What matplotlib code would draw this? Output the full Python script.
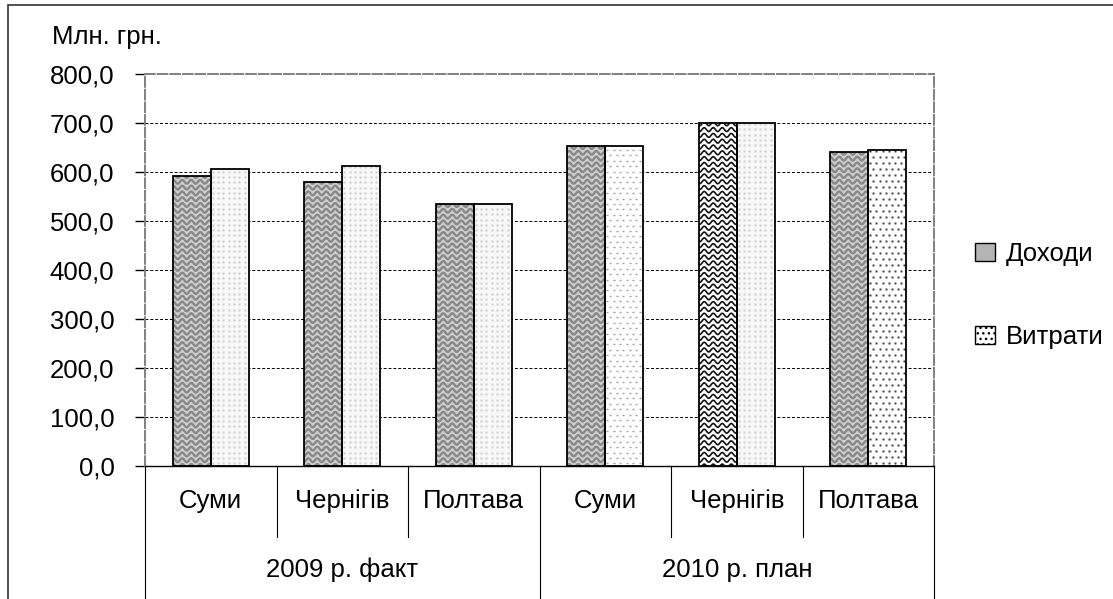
import numpy as np
import matplotlib
matplotlib.use('Agg')
import matplotlib.pyplot as plt
from matplotlib.lines import Line2D
from matplotlib.patches import Patch, Rectangle
from matplotlib.transforms import IdentityTransform, blended_transform_factory

plt.rcParams['font.family'] = ['Liberation Sans Narrow', 'Liberation Sans', 'DejaVu Sans']
FS = 18.5

# data
groups = ['2009 р. факт', '2010 р. план']
cities = ['Суми', 'Чернігів', 'Полтава', 'Суми', 'Чернігів', 'Полтава']
income = [592, 580, 535, 653, 699, 640]
expense = [607, 613, 535, 653, 699, 645]
y_ticks = [0, 100, 200, 300, 400, 500, 600, 700, 800]
y_labels = ['0,0', '100,0', '200,0', '300,0', '400,0', '500,0', '600,0', '700,0', '800,0']

W, H = 1113, 599
fig = plt.figure(figsize=(W / 100, H / 100), dpi=100)
ax = fig.add_axes([145 / W, 1 - 466 / H, (934 - 145) / W, (466 - 74) / H])

# outer frame of the chart
fig.patches.append(Rectangle((8 / W, -0.1), 1.2, 1 - 5 / H + 0.1, transform=fig.transFigure,
                             fill=False, edgecolor='#333333', lw=1.2))

x = np.arange(len(cities))
bw = 0.289

ax.set_xlim(-0.5, len(cities) - 0.5)
ax.set_ylim(0, 800)

inc_bars = ax.bar(x - bw / 2, income, bw, color='#d0d0d0', lw=0, zorder=2)
exp_bars = ax.bar(x + bw / 2, expense, bw, color='#f8f8f8', lw=0, zorder=2)


def wave_fill(bar, color, lw, period=9.0, amp=1.9, gap=5.8):
    bb = bar.get_window_extent()
    xs = np.arange(bb.x0 - period, bb.x1 + period, 0.5)
    for y0 in np.arange(bb.y0, bb.y1 + gap, gap):
        ln = Line2D(xs, y0 + amp * np.sin(2 * np.pi * xs / period), transform=IdentityTransform(),
                    color=color, lw=lw, zorder=2.5)
        ax.add_artist(ln)
        ln.set_clip_path(bar)


def dot_fill(bar, color, ms, dx, dy, stagger, marker='s'):
    bb = bar.get_window_extent()
    px, py = [], []
    for i, yy in enumerate(np.arange(bb.y0 + dy / 2, bb.y1, dy)):
        xs = np.arange(bb.x0 + 2 + (i % 2) * stagger, bb.x1, dx)
        px.extend(xs)
        py.extend([yy] * len(xs))
    ln = Line2D(px, py, transform=IdentityTransform(), ls='none', marker=marker,
                ms=ms, mfc=color, mec=color if marker == '_' else 'none', zorder=2.5)
    ax.add_artist(ln)
    ln.set_clip_path(bar)


for i, b in enumerate(inc_bars):
    if i == 4:
        b.set_facecolor('white')
        wave_fill(b, '#111111', 1.2)
    else:
        wave_fill(b, '#888888', 1.7)

for i, b in enumerate(exp_bars):
    if i == 3:
        b.set_facecolor('white')
        dot_fill(b, '#a0a0a0', 1.8, 6.5, 5.4, 3.2, marker='_')
    elif i == 5:
        b.set_facecolor('white')
        dot_fill(b, '#3a3a3a', 1.4, 6.2, 6.0, 3.1)
    else:
        dot_fill(b, '#cdcdcd', 2.0, 5.3, 5.3, 0)

# outlines
ax.bar(x - bw / 2, income, bw, fill=False, edgecolor='black', lw=1.3, zorder=3)
ax.bar(x + bw / 2, expense, bw, fill=False, edgecolor='black', lw=1.3, zorder=3)

# grid and frame
ax.set_yticks(y_ticks)
ax.set_yticklabels(y_labels, fontsize=FS)
for t in y_ticks[1:-1]:
    ax.axhline(t, color='black', lw=0.7, ls=(0, (3, 2)), zorder=1)
for s in ['left', 'top', 'right']:
    ax.spines[s].set_color('#808080')
    ax.spines[s].set_linestyle((0, (5, 1.5)))
    ax.spines[s].set_linewidth(1.4)
ax.spines['bottom'].set_color('black')
ax.spines['bottom'].set_linewidth(1.0)
ax.tick_params(axis='y', direction='out', length=7, width=1, color='black', pad=15)
ax.tick_params(axis='x', length=0)
ax.set_xticks(x)
ax.set_xticklabels([])

# category axis: labels and dividers
trans = blended_transform_factory(ax.transData, ax.transAxes)
px_ax = 1.0 / (466 - 74)
for i, c in enumerate(cities):
    ax.text(x[i], -35 * px_ax, c, transform=trans, ha='center', va='center', fontsize=FS)
for gi, g in enumerate(groups):
    ax.text(gi * 3 + 1, -104 * px_ax, g, transform=trans, ha='center', va='center', fontsize=FS)
for b in np.arange(-0.5, len(cities), 1.0):
    long_line = abs(b - 2.5) < 0.01 or b < 0 or b > 5
    y_end = -140 * px_ax if long_line else -71 * px_ax
    ax.plot([b, b], [0, y_end], transform=trans, color='black', lw=0.8, clip_on=False)

fig.text(52 / W, 1 - 37 / H, 'Млн. грн.', ha='left', va='center', fontsize=FS)

handles = [Patch(facecolor='#b4b4b4', edgecolor='black', lw=1, hatch='~~'),
           Patch(facecolor='white', edgecolor='black', lw=1, hatch='...')]
fig.legend(handles, ['Доходи', 'Витрати'], loc='upper left',
           bbox_to_anchor=(962 / W, 1 - 229 / H), bbox_transform=fig.transFigure,
           frameon=False, fontsize=FS, borderpad=0, labelspacing=2.3,
           handlelength=0.8, handleheight=0.7, handletextpad=0.4)

fig.savefig('out.png', dpi=100)
